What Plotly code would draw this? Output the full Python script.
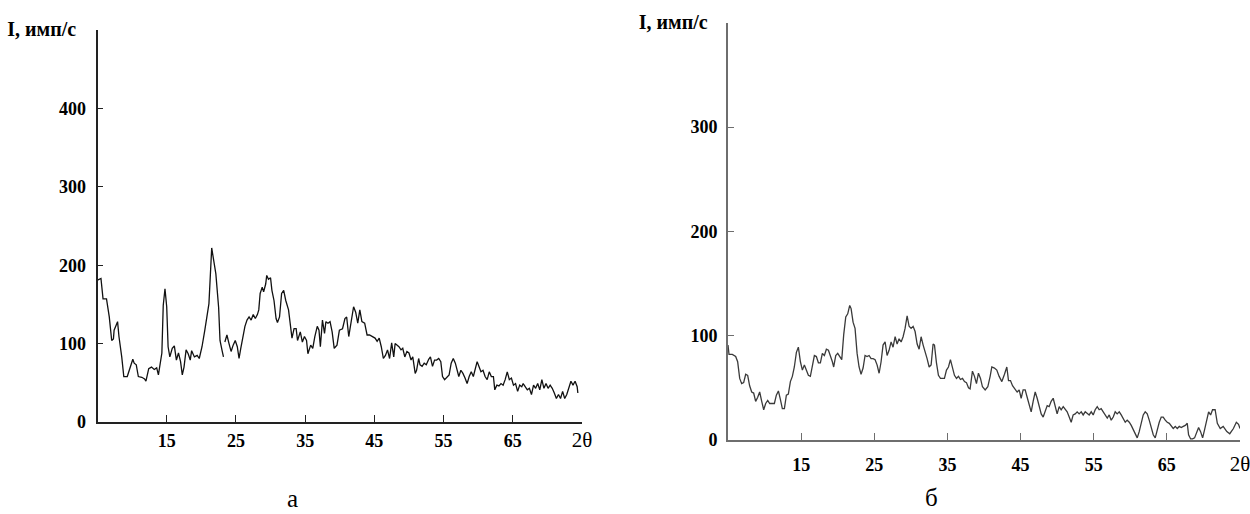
import plotly.graph_objects as go

# ---------------- data ----------------
tick_vals_x = [15, 25, 35, 45, 55, 65, 75]
tick_text_x = ["15", "25", "35", "45", "55", "65", "2θ"]
y_label = "I, имп/с"
left_ticks_y = [0, 100, 200, 300, 400]
right_ticks_y = [0, 100, 200, 300]
captions = ["а", "б"]

# pattern "а" (None = break in the line)
left_2theta = [5.0, 5.5, 5.8, 6.3, 6.7, 7.05, 7.3, 7.4, 7.9, 8.1, 8.5, 8.8, 9.3, 9.7, 10.1, 10.3, 10.6, 10.9,
               11.4, 11.8, 12.0, 12.4, 12.8, 13.2, 13.55, 13.8, 14.0, 14.3, 14.5, 14.75, 15.0, 15.2, 15.45,
               15.8, 16.1, 16.4, 16.7, 17.0, 17.25, 17.5, 17.8, 18.1, 18.4, 18.6, 19.0, 19.4, 19.7, 20.1,
               20.5, 20.9, 21.1, 21.5, 21.8, 22.1, 22.5, 22.7, 23.0, 23.2, 23.3, 23.4, 23.7, 24.0, 24.3,
               24.6, 24.9, 25.2, 25.45, 25.7, 26.0, 26.3, 26.6, 26.9, 27.2, 27.5, 27.8, 28.1, 28.3, 28.5,
               28.8, 29.0, 29.3, 29.45, 29.7, 30.0, 30.2, 30.5, 30.8, 31.0, 31.3, 31.6, 31.9, 32.2, 32.6,
               32.8, 33.1, 33.4, 33.7, 33.9, 34.3, 34.6, 34.9, 35.2, 35.4, 35.8, 36.1, 36.4, 36.75, 37.0,
               37.2, 37.5, 37.8, 38.0, 38.3, 38.6, 38.9, 39.2, 39.6, 39.95, 40.4, 40.75, 41.0, 41.3, 41.6,
               42.0, 42.3, 42.6, 42.9, 43.2, 43.6, 43.95, 44.3, 44.7, 45.1, 45.4, 45.7, 46.0, 46.3, 46.6,
               46.9, 47.2, 47.5, 47.8, 48.0, 48.3, 48.55, 48.85, 49.1, 49.4, 49.7, 50.0, 50.3, 50.55, 50.9,
               51.1, 51.4, 51.6, 51.9, 52.2, 52.5, 52.85, 53.1, 53.4, 53.7, 54.0, 54.3, 54.6, 54.85, 55.15,
               55.5, 55.8, 56.1, 56.4, 56.7, 56.95, 57.2, 57.5, 57.8, 58.1, 58.4, 58.7, 59.0, 59.3, 59.55,
               59.85, 60.1, 60.4, 60.7, 61.0, 61.3, 61.6, 61.9, 62.2, 62.4, 62.7, 63.0, 63.3, 63.6, 63.9,
               64.2, 64.5, 64.8, 65.1, 65.4, 65.7, 66.0, 66.3, 66.5, 66.8, 67.1, 67.4, 67.7, 68.0, 68.3,
               68.6, 68.9, 69.2, 69.5, 69.8, 70.1, 70.4, 70.7, 71.0, 71.3, 71.6, 71.9, 72.2, 72.5, 72.8,
               73.1, 73.4, 73.7, 74.0, 74.3, 74.4]
left_intensity = [181, 183, 157, 157, 134, 104, 106, 117, 128, 109, 83, 58, 58, 68, 80, 75, 73, 58,
                  57, 55, 52, 68, 70, 67, 69, 60, 70, 88, 149, 170, 147, 96, 83,
                  94, 97, 79, 88, 77, 60, 70, 92, 87, 79, 91, 83, 85, 81, 96,
                  117, 139, 151, 222, 202, 189, 146, 104, 91, 83, None, 102, 111, 100, 90,
                  98, 104, 96, 81, 94, 109, 122, 130, 134, 130, 137, 132, 137, 143, 164,
                  172, 166, 176, 187, 182, 184, 168, 155, 132, 127, 134, 164, 168, 155, 143,
                  130, 107, 119, 119, 104, 115, 102, 109, 104, 87, 98, 94, 109, 122, 117,
                  96, 130, 113, 128, 126, 128, 115, 94, 98, 117, 119, 132, 134, 109, 126,
                  147, 140, 126, 143, 128, 126, 111, 111, 109, 107, 103, 107, 96, 81, 85,
                  92, 81, 101, 83, 100, 98, 96, 92, 94, 83, 90, 88, 79, 83, 62,
                  66, 81, 73, 71, 75, 73, 80, 83, 71, 79, 79, 81, 77, 58, 54,
                  58, 60, 75, 81, 75, 66, 58, 66, 62, 56, 49, 58, 64, 58, 66,
                  77, 71, 64, 66, 58, 54, 64, 58, 58, 41, 47, 46, 49, 47, 54,
                  64, 54, 56, 47, 49, 39, 47, 45, 49, 45, 41, 43, 35, 47, 43,
                  49, 41, 54, 43, 49, 43, 47, 43, 37, 30, 35, 30, 39, 30, 35,
                  45, 52, 47, 52, 45, 37]

# pattern "б"
right_2theta = [5.0, 5.14, 5.59, 6.05, 6.32, 6.6, 6.87, 7.14, 7.42, 7.69, 7.96, 8.24, 8.51, 8.78, 9.06,
                9.33, 9.61, 9.88, 10.15, 10.43, 10.7, 10.97, 11.34, 11.61, 11.89, 12.16, 12.43, 12.71,
                12.98, 13.25, 13.53, 13.8, 14.07, 14.35, 14.62, 14.9, 15.17, 15.44, 15.72, 15.99, 16.26,
                16.54, 16.81, 17.08, 17.36, 17.63, 17.9, 18.18, 18.45, 18.73, 19.0, 19.27, 19.45, 19.73,
                20.0, 20.28, 20.55, 20.82, 21.1, 21.37, 21.64, 21.83, 22.1, 22.37, 22.65, 22.92, 23.19,
                23.47, 23.74, 24.01, 24.29, 24.56, 24.84, 25.11, 25.38, 25.66, 25.93, 26.2, 26.48, 26.75,
                27.02, 27.3, 27.57, 27.85, 28.12, 28.39, 28.67, 28.94, 29.21, 29.49, 29.76, 30.03, 30.31,
                30.58, 30.86, 31.13, 31.4, 31.68, 31.95, 32.22, 32.5, 32.77, 33.04, 33.23, 33.5, 33.77,
                34.05, 34.32, 34.59, 34.87, 35.14, 35.41, 35.69, 35.96, 36.24, 36.51, 36.78, 37.06, 37.33,
                37.6, 37.88, 38.1, 38.42, 38.7, 38.97, 39.24, 39.52, 39.79, 40.16, 40.52, 40.84, 41.07,
                41.43, 41.75, 42.07, 42.44, 42.8, 43.12, 43.35, 43.62, 43.9, 44.26, 44.53, 44.81, 45.08,
                45.35, 45.63, 45.9, 46.18, 46.45, 46.72, 47.0, 47.27, 47.54, 47.82, 48.09, 48.36, 48.64,
                48.91, 49.18, 49.46, 49.73, 50.0, 50.28, 50.55, 50.83, 51.1, 51.37, 51.65, 51.92, 52.19,
                52.47, 52.74, 53.01, 53.29, 53.56, 53.84, 54.11, 54.38, 54.66, 54.93, 55.2, 55.48, 55.75,
                56.02, 56.3, 56.57, 56.85, 57.12, 57.39, 57.67, 57.94, 58.21, 58.49, 58.76, 59.03, 59.31,
                59.58, 59.86, 60.13, 60.4, 60.68, 60.95, 61.22, 61.5, 61.77, 62.04, 62.32, 62.59, 62.86,
                63.14, 63.41, 63.68, 63.96, 64.23, 64.5, 64.78, 65.05, 65.33, 65.6, 65.87, 66.15, 66.42,
                66.7, 66.97, 67.24, 67.52, 67.79, 67.97, 68.25, 68.52, 68.79, 69.07, 69.34, 69.61, 69.89,
                70.16, 70.43, 70.71, 70.98, 71.25, 71.6, 71.9, 72.3, 72.7, 73.2, 73.6, 74.1, 74.5, 74.8,
                75.0]
right_intensity = [91, 82, 82, 80, 75, 59, 54, 55, 63, 62, 52, 46, 45, 37, 41,
                   46, 37, 29, 35, 38, 35, 35, 35, 43, 47, 39, 30, 30,
                   43, 44, 56, 61, 70, 84, 89, 75, 67, 72, 67, 62, 61,
                   72, 81, 80, 74, 74, 83, 81, 87, 86, 81, 75, 70, 81,
                   83, 80, 77, 101, 118, 121, 129, 126, 113, 107, 83, 70, 63,
                   69, 81, 80, 81, 78, 78, 77, 72, 64, 75, 91, 94, 81,
                   86, 94, 89, 99, 92, 97, 94, 99, 107, 119, 109, 107, 109,
                   104, 92, 87, 99, 91, 83, 78, 70, 72, 92, 91, 74, 62,
                   59, 59, 59, 67, 70, 77, 70, 62, 59, 61, 58, 59, 56,
                   55, 50, 49, 66, 61, 54, 64, 59, 51, 48, 51, 61, 70,
                   69, 67, 61, 56, 63, 70, 57, 57, 52, 48, 46, 48, 40,
                   48, 48, 41, 35, 27, 37, 46, 40, 32, 25, 22, 27, 33,
                   32, 37, 40, 33, 25, 32, 29, 32, 30, 27, 22, 17, 24,
                   25, 27, 25, 27, 24, 27, 25, 24, 27, 24, 29, 32, 29,
                   30, 27, 24, 21, 24, 19, 22, 27, 25, 27, 24, 21, 17,
                   19, 17, 14, 10, 5, 2, 8, 16, 24, 27, 25, 19, 11,
                   5, 2, 10, 17, 22, 22, 19, 17, 16, 14, 11, 13, 11,
                   13, 12, 13, 14, 16, 5, 1, 1, 2, 8, 12, 8, 2,
                   10, 19, 27, 24, 29, 29, 16, 11, 13, 8, 6, 11, 17, 15,
                   11]

# ---------------- figure ----------------
SERIF = "Liberation Serif, Times New Roman, serif"


def x_ticktext():
    out = []
    for t in tick_text_x:
        if t == "2θ":
            out.append('<span style="font-size:21px">2θ</span>')
        else:
            out.append("<b>" + t + "</b>")
    return out


def y_ticks(vals, top):
    return (vals + [top],
            ["<b>" + str(v) + "</b>" for v in vals]
            + ['<b><span style="font-size:20px">' + y_label + "\u00a0\u00a0</span></b>"])


fig = go.Figure()
fig.add_trace(go.Scatter(x=left_2theta, y=left_intensity, mode="lines",
                         line=dict(color="#111111", width=1.3), xaxis="x", yaxis="y",
                         connectgaps=False, hoverinfo="skip"))
fig.add_trace(go.Scatter(x=right_2theta, y=right_intensity, mode="lines",
                         line=dict(color="#3a3a3a", width=1.3), xaxis="x2", yaxis="y2",
                         hoverinfo="skip"))

lv, lt = y_ticks(left_ticks_y, 500)
rv, rt = y_ticks(right_ticks_y, 400)

common_x = dict(range=[5, 75], tickmode="array", tickvals=tick_vals_x, ticktext=x_ticktext(),
                ticks="inside", ticklen=7, tickwidth=1.2, showline=True, linewidth=1.6,
                showgrid=False, zeroline=False, fixedrange=True, automargin=False,
                ticklabeloverflow="allow",
                tickfont=dict(family=SERIF, size=18, color="#000"))
common_y = dict(tickmode="array", ticks="inside", ticklen=6, tickwidth=1.2, showline=True,
                linewidth=1.6, showgrid=False, zeroline=False, fixedrange=True, automargin=False,
                tickfont=dict(family=SERIF, size=18, color="#000"))
overlay_y = dict(tickmode="array", ticks="outside", ticklen=6, tickwidth=1.2,
                 showticklabels=False, showline=False, showgrid=False, zeroline=False,
                 fixedrange=True, automargin=False)

fig.update_layout(
    width=1250, height=514, margin=dict(l=0, r=0, t=0, b=0, autoexpand=False),
    paper_bgcolor="white", plot_bgcolor="white", showlegend=False,
    xaxis=dict(domain=[0.078, 0.4656], anchor="y", linecolor="#222", tickcolor="#222",
               ticklabelstandoff=2, **common_x),
    yaxis=dict(domain=[0.179, 0.9416], anchor="x", range=[0, 500], tickvals=lv, ticktext=lt,
               linecolor="#222", tickcolor="#222", ticklabelstandoff=6, **common_y),
    xaxis2=dict(domain=[0.5824, 0.992], anchor="y2", linecolor="#6e6e6e", tickcolor="#6e6e6e",
                ticklabelstandoff=8, **common_x),
    yaxis2=dict(domain=[0.144, 0.9556], anchor="x2", range=[0, 400], tickvals=rv, ticktext=rt,
                linecolor="#6e6e6e", tickcolor="#6e6e6e", ticklabelstandoff=5, **common_y),
    # overlay axes that only draw the outer half of the top tick
    yaxis3=dict(overlaying="y", anchor="x", range=[0, 500], tickvals=[500], tickcolor="#222",
                **overlay_y),
    yaxis4=dict(overlaying="y2", anchor="x2", range=[0, 400], tickvals=[400], tickcolor="#6e6e6e",
                **overlay_y),
)

fig.add_annotation(text=captions[0], x=0.2336, y=0.031, xref="paper", yref="paper",
                   xanchor="center", yanchor="middle", showarrow=False,
                   font=dict(family=SERIF, size=25, color="#000"))
fig.add_annotation(text=captions[1], x=0.745, y=0.033, xref="paper", yref="paper",
                   xanchor="center", yanchor="middle", showarrow=False,
                   font=dict(family=SERIF, size=25, color="#000"))

# the page's default body margin would shift the figure; remove it
fig.write_html("out.html", config={"displayModeBar": False},
               post_script="document.body.style.margin='0';")
